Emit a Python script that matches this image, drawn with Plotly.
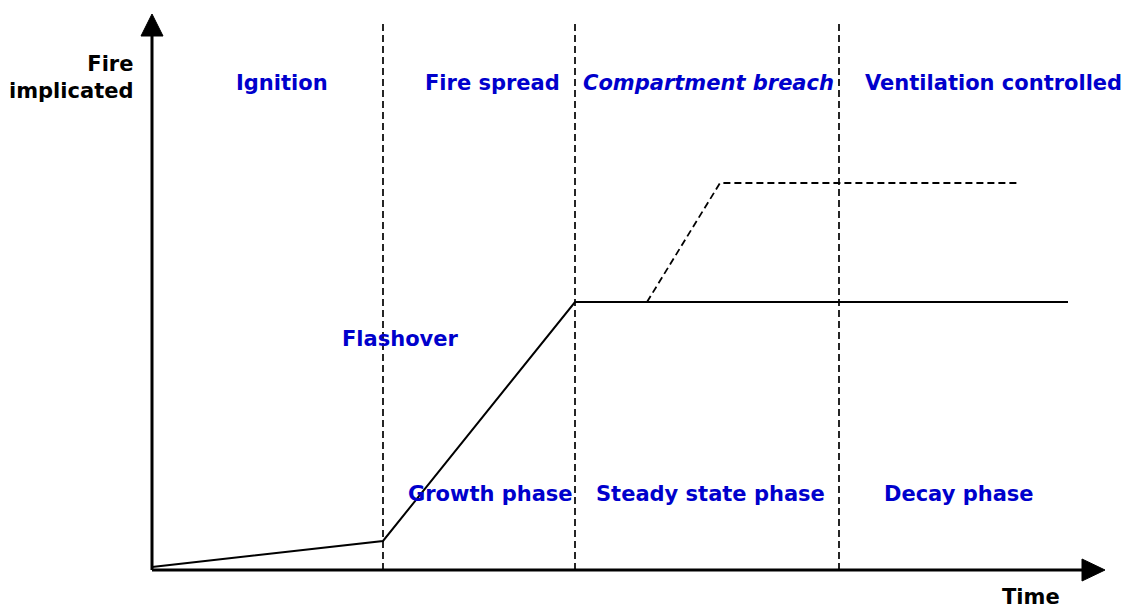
import plotly.graph_objects as go

# Data (diagram units: origin at axes intersection, y up)
fire_x = [0, 231, 423, 916]
fire_y = [3, 29, 268, 268]
breach_x = [495, 568, 866]
breach_y = [268, 387, 387]
boundaries = [231, 423, 687]

top_labels = ["Ignition", "Fire spread", "<i>Compartment breach</i>", "Ventilation controlled"]
top_label_x = [130, 340, 556, 841]
phase_labels = ["Growth phase", "Steady state phase", "Decay phase"]
phase_label_x = [338, 558, 807]
flash_label = "Flashover"
flash_x = [248]

X0, Y0 = 152, 570  # pixel position of origin
W, H = 1123, 604

FONT = "DejaVu Sans"
FS = 21
BLUE = "#0000CC"

fig = go.Figure()
fig.add_trace(go.Scatter(x=fire_x, y=fire_y, mode="lines",
                         line=dict(color="black", width=2), hoverinfo="skip"))
fig.add_trace(go.Scatter(x=breach_x, y=breach_y, mode="lines",
                         line=dict(color="black", width=1.8, dash="7px,4px"), hoverinfo="skip"))

shapes = []
for b in boundaries:
    shapes.append(dict(type="line", x0=b, x1=b, y0=0, y1=550,
                       line=dict(color="black", width=1.7, dash="7px,4px"), layer="below"))
# axes
shapes.append(dict(type="line", x0=0, x1=935, y0=0, y1=0, line=dict(color="black", width=3)))
shapes.append(dict(type="line", x0=0, x1=0, y0=0, y1=537, line=dict(color="black", width=3)))
# arrowheads
shapes.append(dict(type="path", path="M 930 11 L 953 0 L 930 -11 Z",
                   fillcolor="black", line=dict(color="black", width=1)))
shapes.append(dict(type="path", path="M -11 534 L 0 556 L 11 534 Z",
                   fillcolor="black", line=dict(color="black", width=1)))

ann = []
for t, x in zip(top_labels, top_label_x):
    ann.append(dict(x=x, y=487, text=f"<b>{t}</b>", showarrow=False,
                    font=dict(family=FONT, size=FS, color=BLUE)))
for t, x in zip(phase_labels, phase_label_x):
    ann.append(dict(x=x, y=76, text=f"<b>{t}</b>", showarrow=False,
                    font=dict(family=FONT, size=FS, color=BLUE)))
ann.append(dict(x=flash_x[0], y=231, text=f"<b>{flash_label}</b>", showarrow=False,
                font=dict(family=FONT, size=FS, color=BLUE)))
ann.append(dict(x=-17, y=493, text="<b>Fire<br>implicated</b>", showarrow=False,
                xanchor="right", align="right",
                font=dict(family=FONT, size=FS, color="black")))
ann.append(dict(x=879, y=-27, text="<b>Time</b>", showarrow=False,
                font=dict(family=FONT, size=FS, color="black")))

fig.update_layout(
    width=W, height=H,
    margin=dict(l=0, r=0, t=0, b=0),
    paper_bgcolor="white", plot_bgcolor="white",
    showlegend=False,
    shapes=shapes, annotations=ann,
    xaxis=dict(range=[-X0, W - X0], visible=False, fixedrange=True),
    yaxis=dict(range=[Y0 - H, Y0], visible=False, fixedrange=True),
)
fig.write_html("out.html", config={"displayModeBar": False},
               post_script="document.body.style.margin='0';document.body.style.overflow='hidden';")
